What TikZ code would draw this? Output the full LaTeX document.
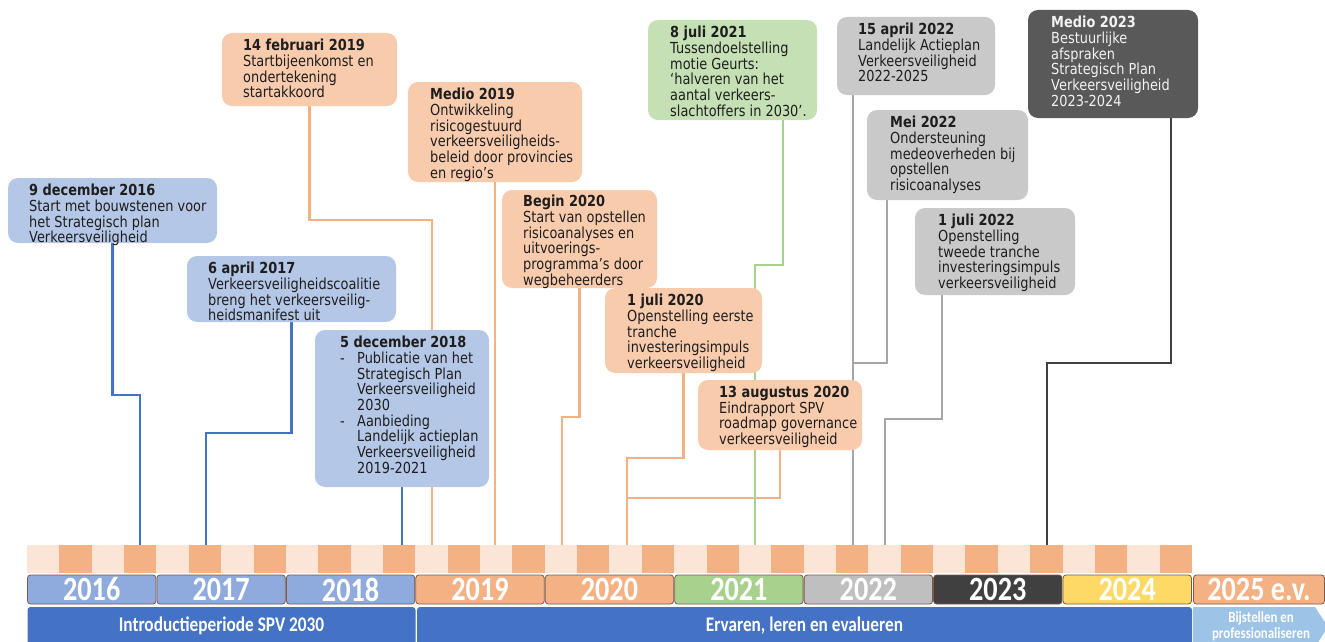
\documentclass[tikz,border=0pt]{standalone}
\usepackage{fontspec}
\setmainfont[FakeStretch=0.85]{DejaVu Sans}
\newfontfamily\calibfont[FakeStretch=0.83]{Carlito}
\usepackage{tikz}
\usetikzlibrary{positioning, calc, backgrounds}

\definecolor{evblue}{HTML}{B4C7E7}
\definecolor{evorange}{HTML}{F8CBAD}
\definecolor{evgreen}{HTML}{C5E0B4}
\definecolor{evgrey}{HTML}{C9C9C9}
\definecolor{evdark}{HTML}{595959}
\definecolor{evink}{HTML}{1E1E1E}
\definecolor{evpale}{HTML}{F2F2F2}
\definecolor{lnblue}{HTML}{4472C4}
\definecolor{lnorange}{HTML}{F4B183}
\definecolor{lngreen}{HTML}{A9D18E}
\definecolor{lngrey}{HTML}{A6A6A6}
\definecolor{lndark}{HTML}{404040}
\definecolor{bandlight}{HTML}{FBE5D6}
\definecolor{banddark}{HTML}{F4B183}
\definecolor{yrblue}{HTML}{8FAADC}
\definecolor{yrorange}{HTML}{F4B183}
\definecolor{yrgreen}{HTML}{A9D18E}
\definecolor{yrgrey}{HTML}{BFBFBF}
\definecolor{yrdark}{HTML}{404040}
\definecolor{yryellow}{HTML}{FFD966}
\definecolor{yredge}{HTML}{7A5A48}
\definecolor{barblue}{HTML}{4472C4}
\definecolor{barlight}{HTML}{9DC3E6}

\tikzset{
	evbox/.style={fill=#1, rounded corners=10pt, anchor=north west, inner sep=0pt, outer sep=0pt},
	evtext/.style={inner sep=0pt, align=left, text=evink, font=\fontsize{15.2}{15.7}\selectfont},
	conn/.style={draw=#1, line width=2.2pt},
	yearbox/.style={fill=#1, draw=yredge, line width=0.8pt, rounded corners=3pt, minimum height=29pt, inner sep=0pt, text=white, font=\calibfont\bfseries\fontsize{34}{34}\selectfont},
	periodbar/.style={fill=barblue, rounded corners=3pt, minimum height=38pt, inner sep=0pt, text=white, font=\calibfont\bfseries\fontsize{20.8}{22}\selectfont}
}

\begin{document}
\begin{tikzpicture}[x=1pt, y=-1pt]
	\useasboundingbox (0,0) rectangle (1325,642);

	% event boxes
	\node[evbox=evblue, minimum width=209pt, minimum height=65pt] (dec16) at (8,178) {};
	\node[evbox=evblue, minimum width=209pt, minimum height=66pt] (apr17) at (187,256) {};
	\node[evbox=evblue, minimum width=174pt, minimum height=157pt] (dec18) at (315,330) {};
	\node[evbox=evorange, minimum width=175pt, minimum height=73pt] (feb19) at (222,33) {};
	\node[evbox=evorange, minimum width=174pt, minimum height=100pt] (mid19) at (408,82) {};
	\node[evbox=evorange, minimum width=155pt, minimum height=98pt] (beg20) at (502,190) {};
	\node[evbox=evorange, minimum width=157pt, minimum height=85pt] (jul20) at (605,288) {};
	\node[evbox=evorange, minimum width=164pt, minimum height=70pt] (aug20) at (698,380) {};
	\node[evbox=evgreen, minimum width=169pt, minimum height=100pt] (jul21) at (648,20) {};
	\node[evbox=evgrey, minimum width=158pt, minimum height=78pt] (apr22) at (837,17) {};
	\node[evbox=evgrey, minimum width=161pt, minimum height=90pt] (may22) at (867,110) {};
	\node[evbox=evgrey, minimum width=160pt, minimum height=87pt] (jul22) at (915,208) {};
	\node[evbox=evdark, minimum width=170pt, minimum height=108pt] (mid23) at (1028,10) {};

	\node[evtext, below right=6pt and 21pt of dec16.north west] (dec16t) {\textbf{9 december 2016}\\Start met bouwstenen voor\\het Strategisch plan\\Verkeersveiligheid};
	\node[evtext, below right=6pt and 21pt of apr17.north west] (apr17t) {\textbf{6 april 2017}\\Verkeersveiligheidscoalitie\\breng het verkeersveilig-\\heidsmanifest uit};
	\node[evtext, below right=6pt and 25pt of dec18.north west] (dec18t) {\textbf{5 december 2018}\\\makebox[17pt][l]{-}Publicatie van het\\\hspace*{17pt}Strategisch Plan\\\hspace*{17pt}Verkeersveiligheid\\\hspace*{17pt}2030\\\makebox[17pt][l]{-}Aanbieding\\\hspace*{17pt}Landelijk actieplan\\\hspace*{17pt}Verkeersveiligheid\\\hspace*{17pt}2019-2021};
	\node[evtext, below right=6pt and 21pt of feb19.north west] (feb19t) {\textbf{14 februari 2019}\\Startbijeenkomst en\\ondertekening\\startakkoord};
	\node[evtext, below right=6pt and 22pt of mid19.north west] (mid19t) {\textbf{Medio 2019}\\Ontwikkeling\\risicogestuurd\\verkeersveiligheids-\\beleid door provincies\\en regio’s};
	\node[evtext, below right=5pt and 21pt of beg20.north west] (beg20t) {\textbf{Begin 2020}\\Start van opstellen\\risicoanalyses en\\uitvoerings-\\programma’s door\\wegbeheerders};
	\node[evtext, below right=6pt and 22pt of jul20.north west] (jul20t) {\textbf{1 juli 2020}\\Openstelling eerste\\tranche\\investeringsimpuls\\verkeersveiligheid};
	\node[evtext, below right=6pt and 21pt of aug20.north west] (aug20t) {\textbf{13 augustus 2020}\\Eindrapport SPV\\roadmap governance\\verkeersveiligheid};
	\node[evtext, below right=6pt and 22pt of jul21.north west] (jul21t) {\textbf{8 juli 2021}\\Tussendoelstelling\\motie Geurts:\\‘halveren van het\\aantal verkeers-\\slachtoffers in 2030’.};
	\node[evtext, below right=6pt and 21pt of apr22.north west] (apr22t) {\textbf{15 april 2022}\\Landelijk Actieplan\\Verkeersveiligheid\\2022-2025};
	\node[evtext, below right=6pt and 23pt of may22.north west] (may22t) {\textbf{Mei 2022}\\Ondersteuning\\medeoverheden bij\\opstellen\\risicoanalyses};
	\node[evtext, below right=6pt and 23pt of jul22.north west] (jul22t) {\textbf{1 juli 2022}\\Openstelling\\tweede tranche\\investeringsimpuls\\verkeersveiligheid};
	\node[evtext, text=evpale, below right=6pt and 23pt of mid23.north west] (mid23t) {\textbf{Medio 2023}\\Bestuurlijke\\afspraken\\Strategisch Plan\\Verkeersveiligheid\\2023-2024};

	% time band
	\fill[bandlight] (27,545) rectangle (1192,573);
	\foreach \i in {1,3,...,35}
		\fill[banddark] ({27+\i*32.36},545) rectangle ++(32.36,28);

	\coordinate (t16) at (140,545);
	\coordinate (t17) at (206,545);
	\coordinate (t18) at (402,545);
	\coordinate (t19a) at (432,545);
	\coordinate (t19b) at (495,545);
	\coordinate (t20a) at (562,545);
	\coordinate (t20b) at (627,545);
	\coordinate (t21) at (755,545);
	\coordinate (t22a) at (853,545);
	\coordinate (t22b) at (885,545);
	\coordinate (t23) at (1047,545);
	\coordinate (j20) at (627,498);
	\coordinate (j22) at (853,363);

	\foreach \yr/\col [count=\i from 0] in {2016/yrblue, 2017/yrblue, 2018/yrblue, 2019/yrorange, 2020/yrorange, 2021/yrgreen, 2022/yrgrey, 2023/yrdark, 2024/yryellow}
		\node[yearbox=\col, minimum width=128.4pt] (y\yr) at ({91.7+\i*129.44},589.5) {\yr};
	\node[yearbox=yrorange, minimum width=131pt] (y2025) at (1259,589.5) {2025 e.v.};

	\node[periodbar, minimum width=388pt] (intro) at (221.5,626) {Introductieperiode SPV 2030};
	\node[periodbar, minimum width=775pt] (ervaren) at (804.5,626) {Ervaren, leren en evalueren};
	\fill[barlight] (1193,607) -- (1315,607) -- (1328,627) -- (1315,647) -- (1193,647) -- cycle;
	\node[align=center, inner sep=0pt, text=white, font=\calibfont\bfseries\fontsize{15.5}{16}\selectfont] (bijstel) at (1261,626) {Bijstellen en\\professionaliseren};

	\begin{scope}[on background layer]
		\draw[conn=lnblue] (dec16.south) -- ++(0,152) -| (t16);
		\draw[conn=lnblue] (apr17.south) -- ++(0,111) -| (t17);
		\draw[conn=lnblue] (dec18.south) -- (t18);
		\draw[conn=lnorange] (feb19.south) -- ++(0,114) -| (t19a);
		\draw[conn=lnorange] (mid19.south) -- (t19b);
		\draw[conn=lnorange] (beg20.south) -- ++(0,129) -| (t20a);
		\draw[conn=lnorange] (jul20.south) -- ++(0,85) -| (t20b);
		\draw[conn=lnorange] (aug20.south) |- (j20);
		\draw[conn=lngreen] (jul21.south west) ++(135,0) -- ++(0,145) -| (t21);
		\draw[conn=lngrey] (apr22.south west) ++(16,0) -- (t22a);
		\draw[conn=lngrey] (may22.south west) ++(20,0) |- (j22);
		\draw[conn=lngrey] (jul22.south west) ++(27,0) -- ++(0,124) -| (t22b);
		\draw[conn=lndark] (mid23.south west) ++(143,0) -- ++(0,245) -| (t23);
	\end{scope}
\end{tikzpicture}
\end{document}
